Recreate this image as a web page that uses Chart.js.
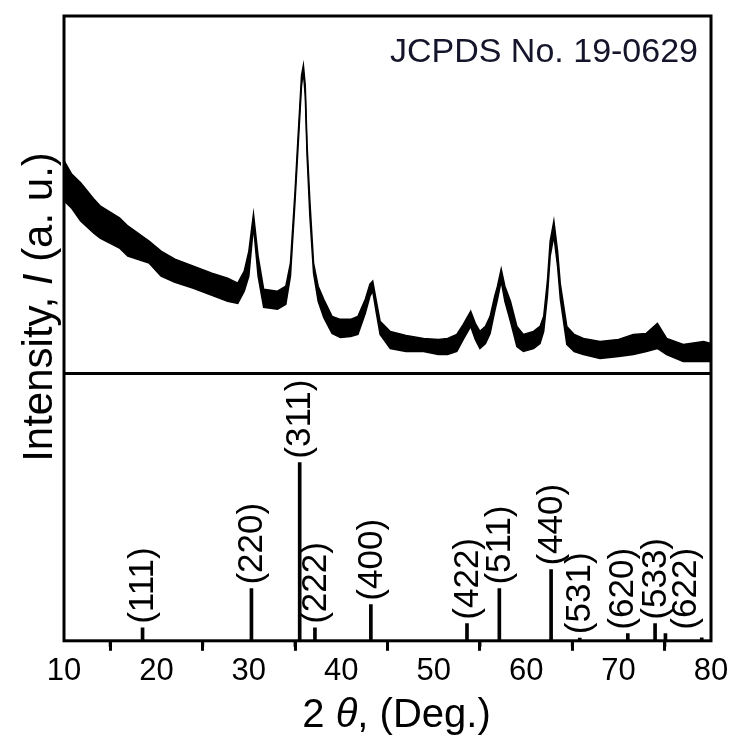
<!DOCTYPE html>
<html>
<head>
<meta charset="utf-8">
<script src="https://cdn.jsdelivr.net/npm/chart.js@4"></script>
<style>
html, body { margin: 0; padding: 0; background: #fff; }
#wrap { width: 734px; height: 742px; }
</style>
</head>
<body>
<div id="wrap"><canvas id="xrdChart" width="734" height="742"></canvas></div>
<script>
// measured pattern: 2theta and the top / bottom edge of the noisy trace
const twoTheta = [10.0, 10.8, 11.8, 13.2, 13.9, 16.0, 16.9, 19.2, 20.5, 22.0, 24.0, 26.0, 27.7, 28.8, 29.5, 30.0, 30.5, 31.0, 31.6, 33.1,
  34.0, 34.5, 35.0, 35.3, 35.7, 35.9, 36.1, 36.3, 36.6, 37.0, 37.5, 38.1, 39.0, 39.9, 41.0, 41.8, 42.6, 43.1, 43.4, 43.8,
  44.2, 45.3, 47.0, 48.9, 50.5, 51.5, 52.5, 53.2, 54.0, 54.5, 55.0, 55.6, 56.1, 56.6, 56.9, 57.3, 57.7, 58.3, 59.0, 59.7,
  60.8, 61.5, 61.9, 62.3, 62.6, 63.0, 63.4, 63.7, 64.4, 65.2, 66.2, 68.0, 70.0, 71.6, 73.0, 74.2, 75.2, 77.0, 79.2, 80.0];
const upperEdge = [212, 199, 190, 174, 167, 155, 147, 132, 122, 114, 107, 100, 95, 90, 102, 122, 159, 117, 84, 82,
  87, 110, 182, 232, 297, 307, 287, 227, 172, 110, 87, 74, 57, 54, 54, 57, 74, 89, 92, 72,
  52, 42, 38, 35, 34, 35, 39, 49, 62, 50, 42, 47, 57, 77, 87, 104, 87, 72, 47, 39,
  42, 47, 57, 92, 132, 152, 122, 89, 47, 39, 35, 32, 34, 39, 40, 50, 35, 29, 32, 30];
const lowerEdge = [172, 165, 152, 140, 135, 125, 117, 110, 97, 91, 85, 78, 72, 70, 82, 97, 147, 97, 66, 64,
  69, 97, 172, 222, 287, 300, 277, 217, 157, 100, 72, 56, 40, 36, 37, 39, 60, 77, 82, 60,
  39, 25, 22, 22, 19, 19, 22, 34, 47, 34, 25, 30, 40, 62, 74, 92, 72, 52, 27, 22,
  25, 30, 42, 77, 117, 137, 107, 74, 29, 22, 19, 15, 17, 19, 22, 25, 19, 12, 12, 12];

// JCPDS 19-0629 reference lines
const refHkl = ["(111)", "(220)", "(311)", "(222)", "(400)", "(422)", "(511)", "(440)", "(531)", "(620)", "(533)", "(622)", ""];
const refPos = [18.5, 30.28, 35.5, 37.15, 43.2, 53.6, 57.1, 62.7, 65.8, 71.0, 73.95, 75.07, 79.0];
const refInt = [7.3, 29.3, 100, 7.3, 20.3, 9.6, 29.3, 40, 1.5, 4, 9.6, 4, 1.7];

const xTicks = [10, 20, 30, 40, 50, 60, 70, 80];

const FONT = "'Liberation Sans', Arial, sans-serif";

const decor = {
  id: "decor",
  afterDatasetsDraw(chart) {
    const { ctx, chartArea: a, scales } = chart;
    const xs = scales.x, yRef = scales.yRef, yObs = scales.yObs;
    ctx.save();
    // hkl labels
    ctx.fillStyle = "#000";
    ctx.font = "35px " + FONT;
    ctx.textAlign = "left";
    ctx.textBaseline = "middle";
    const nudge = { "(620)": -5, "(622)": 20 };
    refHkl.forEach((t, i) => {
      if (!t) return;
      const px = xs.getPixelForValue(refPos[i]) + (nudge[t] || 0);
      const py = yRef.getPixelForValue(refInt[i]) - 4;
      ctx.save();
      ctx.translate(px + 1, py);
      ctx.rotate(-Math.PI / 2);
      ctx.fillText(t, 0, 0);
      ctx.restore();
    });
    // frame and divider
    ctx.strokeStyle = "#000";
    ctx.lineWidth = 3;
    ctx.strokeRect(a.left, a.top, a.right - a.left, a.bottom - a.top);
    ctx.beginPath();
    ctx.moveTo(a.left, yObs.bottom);
    ctx.lineTo(a.right, yObs.bottom);
    ctx.stroke();
    // minor ticks
    for (let v = 15; v < 80; v += 10) {
      const px = xs.getPixelForValue(v);
      ctx.beginPath();
      ctx.moveTo(px, a.bottom);
      ctx.lineTo(px, a.bottom + 6);
      ctx.stroke();
    }
    // card number
    ctx.fillStyle = "#14142a";
    ctx.font = "34px " + FONT;
    ctx.textAlign = "right";
    ctx.textBaseline = "alphabetic";
    ctx.fillText("JCPDS No. 19-0629", a.right - 13, 62);
    // axis titles
    ctx.fillStyle = "#000";
    ctx.textAlign = "left";
    const xt = [["2", "40px " + FONT], [" \u03b8", "italic 40px " + FONT], [", (Deg.)", "40px " + FONT]];
    let w = 0;
    xt.forEach(p => { ctx.font = p[1]; w += ctx.measureText(p[0]).width; });
    let cx = (a.left + a.right) / 2 + 9 - w / 2;
    xt.forEach(p => { ctx.font = p[1]; ctx.fillText(p[0], cx, 727); cx += ctx.measureText(p[0]).width; });
    const yt = [["Intensity, ", "42px " + FONT], ["I", "italic 42px " + FONT], [" (a. u.)", "42px " + FONT]];
    w = 0;
    yt.forEach(p => { ctx.font = p[1]; w += ctx.measureText(p[0]).width; });
    ctx.translate(52, 307);
    ctx.rotate(-Math.PI / 2);
    cx = -w / 2;
    yt.forEach(p => { ctx.font = p[1]; ctx.fillText(p[0], cx, 0); cx += ctx.measureText(p[0]).width; });
    ctx.restore();
  }
};

new Chart(document.getElementById("xrdChart").getContext("2d"), {
  type: "line",
  data: {
    datasets: [
      {
        label: "upper",
        data: twoTheta.map((t, i) => ({ x: t, y: upperEdge[i] })),
        yAxisID: "yObs",
        borderColor: "#000",
        borderWidth: 1.5,
        pointRadius: 0,
        fill: false
      },
      {
        label: "lower",
        data: twoTheta.map((t, i) => ({ x: t, y: lowerEdge[i] })),
        yAxisID: "yObs",
        borderColor: "#000",
        backgroundColor: "#000",
        borderWidth: 1.5,
        pointRadius: 0,
        fill: "-1"
      },
      {
        type: "bar",
        label: "JCPDS",
        data: refPos.map((p, i) => ({ x: p, y: refInt[i] })),
        yAxisID: "yRef",
        backgroundColor: "#000",
        barThickness: 3,
        grouped: false
      }
    ]
  },
  options: {
    responsive: false,
    animation: false,
    devicePixelRatio: 1,
    layout: { padding: { left: 56, right: 23, top: 16, bottom: 50 } },
    plugins: { legend: { display: false }, tooltip: { enabled: false } },
    scales: {
      x: {
        type: "linear",
        min: 10,
        max: 80,
        offset: false,
        afterBuildTicks(scale) { scale.ticks = xTicks.map(v => ({ value: v })); },
        ticks: { color: "#000", font: { family: FONT, size: 31 }, padding: 2, maxRotation: 0 },
        grid: { drawOnChartArea: false, tickLength: 10, tickWidth: 3, color: "#000" },
        border: { display: false }
      },
      yRef: {
        position: "left",
        stack: "panels",
        stackWeight: 266,
        min: 0,
        max: 150,
        ticks: { display: false },
        grid: { display: false },
        border: { display: false }
      },
      yObs: {
        position: "left",
        stack: "panels",
        stackWeight: 356,
        min: 0,
        max: 356,
        ticks: { display: false },
        grid: { display: false },
        border: { display: false }
      }
    }
  },
  plugins: [decor]
});
</script>
</body>
</html>
